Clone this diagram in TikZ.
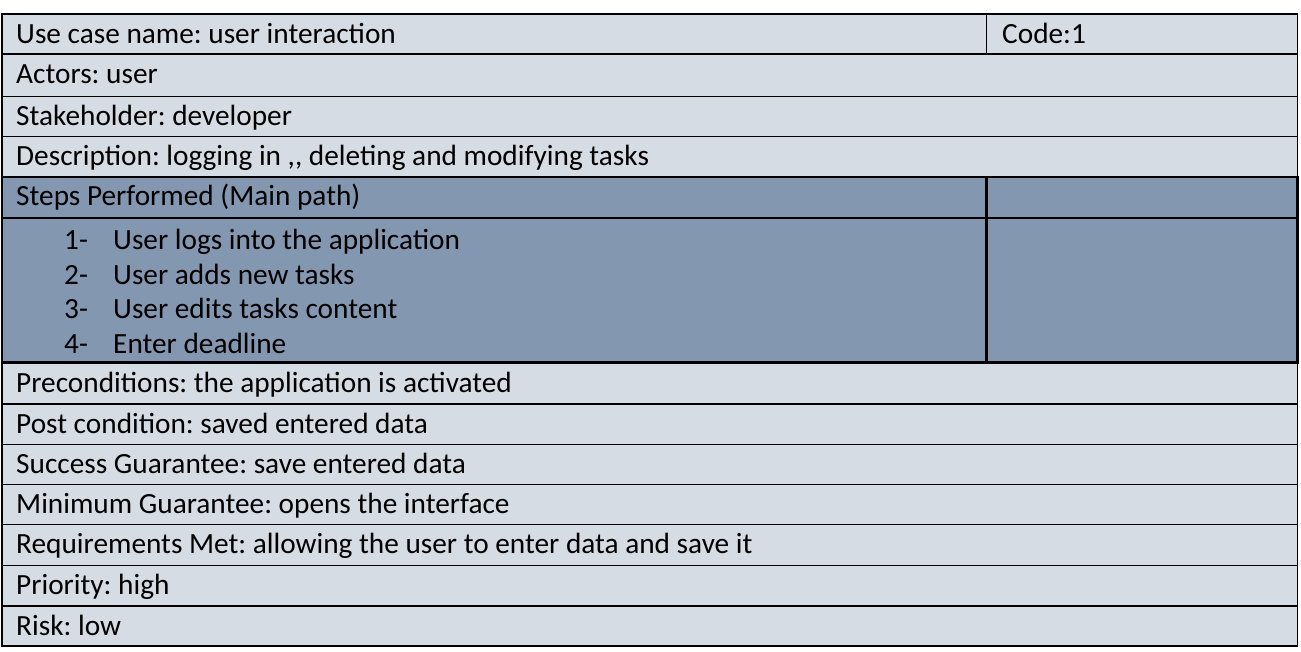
\documentclass[tikz,border=0pt]{standalone}
\usepackage{fontspec}
\setmainfont{Carlito}
\frenchspacing
\definecolor{lightfill}{HTML}{D6DCE4}
\definecolor{darkfill}{HTML}{8497B0}
\tikzset{
  cell/.style={anchor=base west, inner sep=0pt, font=\fontsize{29.3}{32}\selectfont\frenchspacing},
  thinrule/.style={line width=1.2pt, black},
  thickrule/.style={line width=2.2pt, black},
}
\begin{document}
\begin{tikzpicture}[x=1pt,y=-1pt]
\useasboundingbox (0,0) rectangle (1301,652);
% fills
\fill[lightfill] (2,14) rectangle (1297.5,646);
\fill[darkfill] (2,177) rectangle (1297.5,362.5);
% thin rules
\draw[thinrule] (2,14) rectangle (1297.5,646);
\foreach \y in {54,96.5,136.5,404,444.3,484.3,524.3,565.5,606}
  \draw[thinrule] (2,\y) -- (1297.5,\y);
\draw[thinrule] (986.5,14) -- (986.5,54);
% thick block
\draw[thickrule] (2,177) rectangle (1297.5,362.5);
\draw[thickrule] (2,218) -- (1297.5,218);
\draw[thickrule] (986.5,177) -- (986.5,362.5);
% texts
\node[cell] (t1) at (16,43.3) {Use case name: user interaction};
\node[cell] (t1b) at (1002,43.3) {Code:1};
\node[cell] (t2) at (16,83.5) {Actors: user};
\node[cell] (t3) at (16,125.5) {Stakeholder: developer};
\node[cell] (t4) at (16,165.5) {Description: logging in ,{},{} deleting and modifying tasks};
\node[cell] (t5) at (16,206) {Steps Performed (Main path)};
\node[cell] (s1n) at (64,249.5) {1-};
\node[cell] (s1) at (113,249.5) {User logs into the application};
\node[cell] (s2n) at (64,284.3) {2-};
\node[cell] (s2) at (113,284.3) {User adds new tasks};
\node[cell] (s3n) at (64,319) {3-};
\node[cell] (s3) at (113,319) {User edits tasks content};
\node[cell] (s4n) at (64,353.5) {4-};
\node[cell] (s4) at (113,353.5) {Enter deadline};
\node[cell] (t6) at (16,392) {Preconditions: the application is activated};
\node[cell] (t7) at (16,433) {Post condition: saved entered data};
\node[cell] (t8) at (16,473.3) {Success Guarantee: save entered data};
\node[cell] (t9) at (16,513.3) {Minimum Guarantee: opens the interface};
\node[cell] (t10) at (16,553.5) {Requirements Met: allowing the user to enter data and save it};
\node[cell] (t11) at (16,594.5) {Priority: high};
\node[cell] (t12) at (16,635) {Risk: low};
\end{tikzpicture}
\end{document}
